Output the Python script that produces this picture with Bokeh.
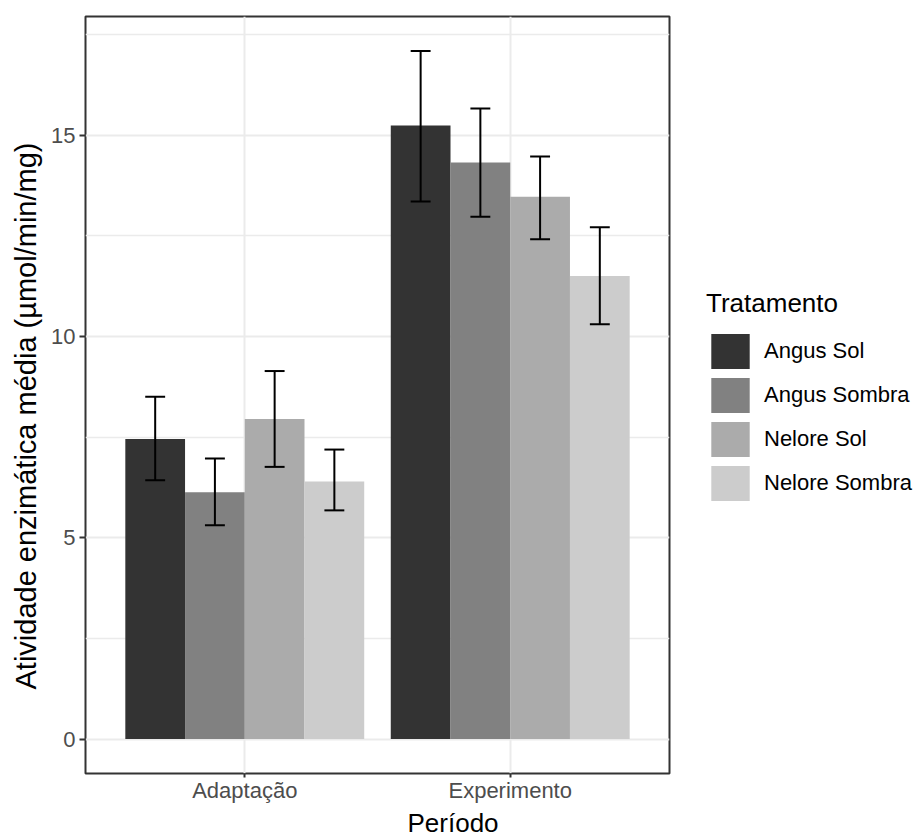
from bokeh.plotting import figure
from bokeh.layouts import row
from bokeh.models import ColumnDataSource, FactorRange, FixedTicker, Legend, LegendItem, Range1d, Title
from bokeh.transform import dodge
from bokeh.embed import file_html
from bokeh.resources import INLINE

# ---------------- data ----------------
periods = ["Adaptação", "Experimento"]
treatments = ["Angus Sol", "Angus Sombra", "Nelore Sol", "Nelore Sombra"]
fill_colors = ["#333333", "#818181", "#ABABAB", "#CCCCCC"]

mean_angus_sol = [7.45, 15.24]
mean_angus_sombra = [6.13, 14.32]
mean_nelore_sol = [7.95, 13.47]
mean_nelore_sombra = [6.40, 11.50]

lower_angus_sol = [6.43, 13.35]
lower_angus_sombra = [5.31, 12.97]
lower_nelore_sol = [6.76, 12.41]
lower_nelore_sombra = [5.68, 10.30]

upper_angus_sol = [8.50, 17.09]
upper_angus_sombra = [6.97, 15.66]
upper_nelore_sol = [9.14, 14.47]
upper_nelore_sombra = [7.19, 12.71]

y_ticks = [0, 5, 10, 15]
y_minor_ticks = [2.5, 7.5, 12.5, 17.5]

x_title = "Período"
y_title = "Atividade enzimática média (µmol/min/mg)"
legend_title = "Tratamento"

means = [mean_angus_sol, mean_angus_sombra, mean_nelore_sol, mean_nelore_sombra]
lowers = [lower_angus_sol, lower_angus_sombra, lower_nelore_sol, lower_nelore_sombra]
uppers = [upper_angus_sol, upper_angus_sombra, upper_nelore_sol, upper_nelore_sombra]

FONT = "Liberation Sans"
bar_w = 0.9 / len(treatments)
cap_w = 0.075

y_max = max(max(u) for u in uppers)
p = figure(
    x_range=FactorRange(*periods, range_padding=0.1, range_padding_units="absolute"),
    y_range=Range1d(-0.05 * y_max, 1.05 * y_max),
    width=672, height=837,
    min_border_left=84, min_border_right=3, min_border_top=16, min_border_bottom=62,
    output_backend="svg", toolbar_location=None, tools="",
)
p.background_fill_color = "white"
p.border_fill_color = "white"
p.outline_line_color = "#333333"
p.outline_line_width = 2

sources = []
for i, t in enumerate(treatments):
    src = ColumnDataSource(dict(period=periods, mean=means[i], lower=lowers[i], upper=uppers[i]))
    sources.append(src)
    off = (i - (len(treatments) - 1) / 2) * bar_w
    p.vbar(x=dodge("period", off, range=p.x_range), top="mean", bottom=0, width=bar_w,
           source=src, fill_color=fill_colors[i], line_color=None)

for i, src in enumerate(sources):
    off = (i - (len(treatments) - 1) / 2) * bar_w
    xc = dodge("period", off, range=p.x_range)
    xl = dodge("period", off - cap_w / 2, range=p.x_range)
    xr = dodge("period", off + cap_w / 2, range=p.x_range)
    kw = dict(source=src, line_color="black", line_width=2)
    p.segment(x0=xc, x1=xc, y0="lower", y1="upper", **kw)
    p.segment(x0=xl, x1=xr, y0="upper", y1="upper", **kw)
    p.segment(x0=xl, x1=xr, y0="lower", y1="lower", **kw)

# axes
for ax in (p.xaxis[0], p.yaxis[0]):
    ax.axis_line_color = None
    ax.major_tick_line_color = "#333333"
    ax.major_tick_line_width = 2
    ax.major_tick_out = 6
    ax.major_tick_in = 0
    ax.minor_tick_line_color = None
    ax.major_label_text_font = FONT
    ax.major_label_text_font_size = "22px"
    ax.major_label_text_color = "#4D4D4D"
    ax.axis_label_standoff = 0

p.yaxis.ticker = FixedTicker(ticks=y_ticks, minor_ticks=y_minor_ticks)
p.yaxis.major_label_standoff = 4
p.xaxis.major_tick_out = 4
p.xaxis.major_label_standoff = 0

p.xgrid.grid_line_color = "#EBEBEB"
p.xgrid.grid_line_width = 2
p.ygrid.grid_line_color = "#EBEBEB"
p.ygrid.grid_line_width = 2
p.ygrid.minor_grid_line_color = "#EBEBEB"
p.ygrid.minor_grid_line_width = 1.5

# axis titles (centred on the whole image, as in the reference)
p.add_layout(Title(text=x_title, align="left", offset=322, standoff=0,
                   text_font=FONT, text_font_size="26px", text_font_style="normal",
                   text_color="black"), "below")
p.add_layout(Title(text=y_title, align="left", offset=84, standoff=14,
                   text_font=FONT, text_font_size="29px", text_font_style="normal",
                   text_color="black"), "left")

# legend, drawn in a narrow companion figure to the right of the panel
q = figure(width=242, height=837, x_range=FactorRange(*periods), y_range=Range1d(0, 1),
           min_border=0, x_axis_location=None, y_axis_location=None,
           output_backend="svg", toolbar_location=None, tools="")
q.grid.visible = False
q.outline_line_color = None
q.background_fill_color = "white"
q.border_fill_color = "white"
keys = [q.vbar(x="period", top="mean", width=bar_w, source=src, fill_color=c,
               line_color=None, visible=False)
        for src, c in zip(sources, fill_colors)]

legend = Legend(
    items=[LegendItem(label=t, renderers=[k]) for t, k in zip(treatments, keys)],
    title=legend_title,
    location=(34, 268),
    glyph_width=48, glyph_height=44, label_height=44,
    spacing=0, label_standoff=10, padding=0, margin=0,
    border_line_color=None, background_fill_alpha=0,
    title_text_font=FONT, title_text_font_size="26px", title_text_font_style="normal",
    title_text_color="black", title_standoff=10,
    label_text_font=FONT, label_text_font_size="22px", label_text_color="black",
)
q.add_layout(legend)

open("out.html", "w").write(file_html(row(p, q), INLINE))
